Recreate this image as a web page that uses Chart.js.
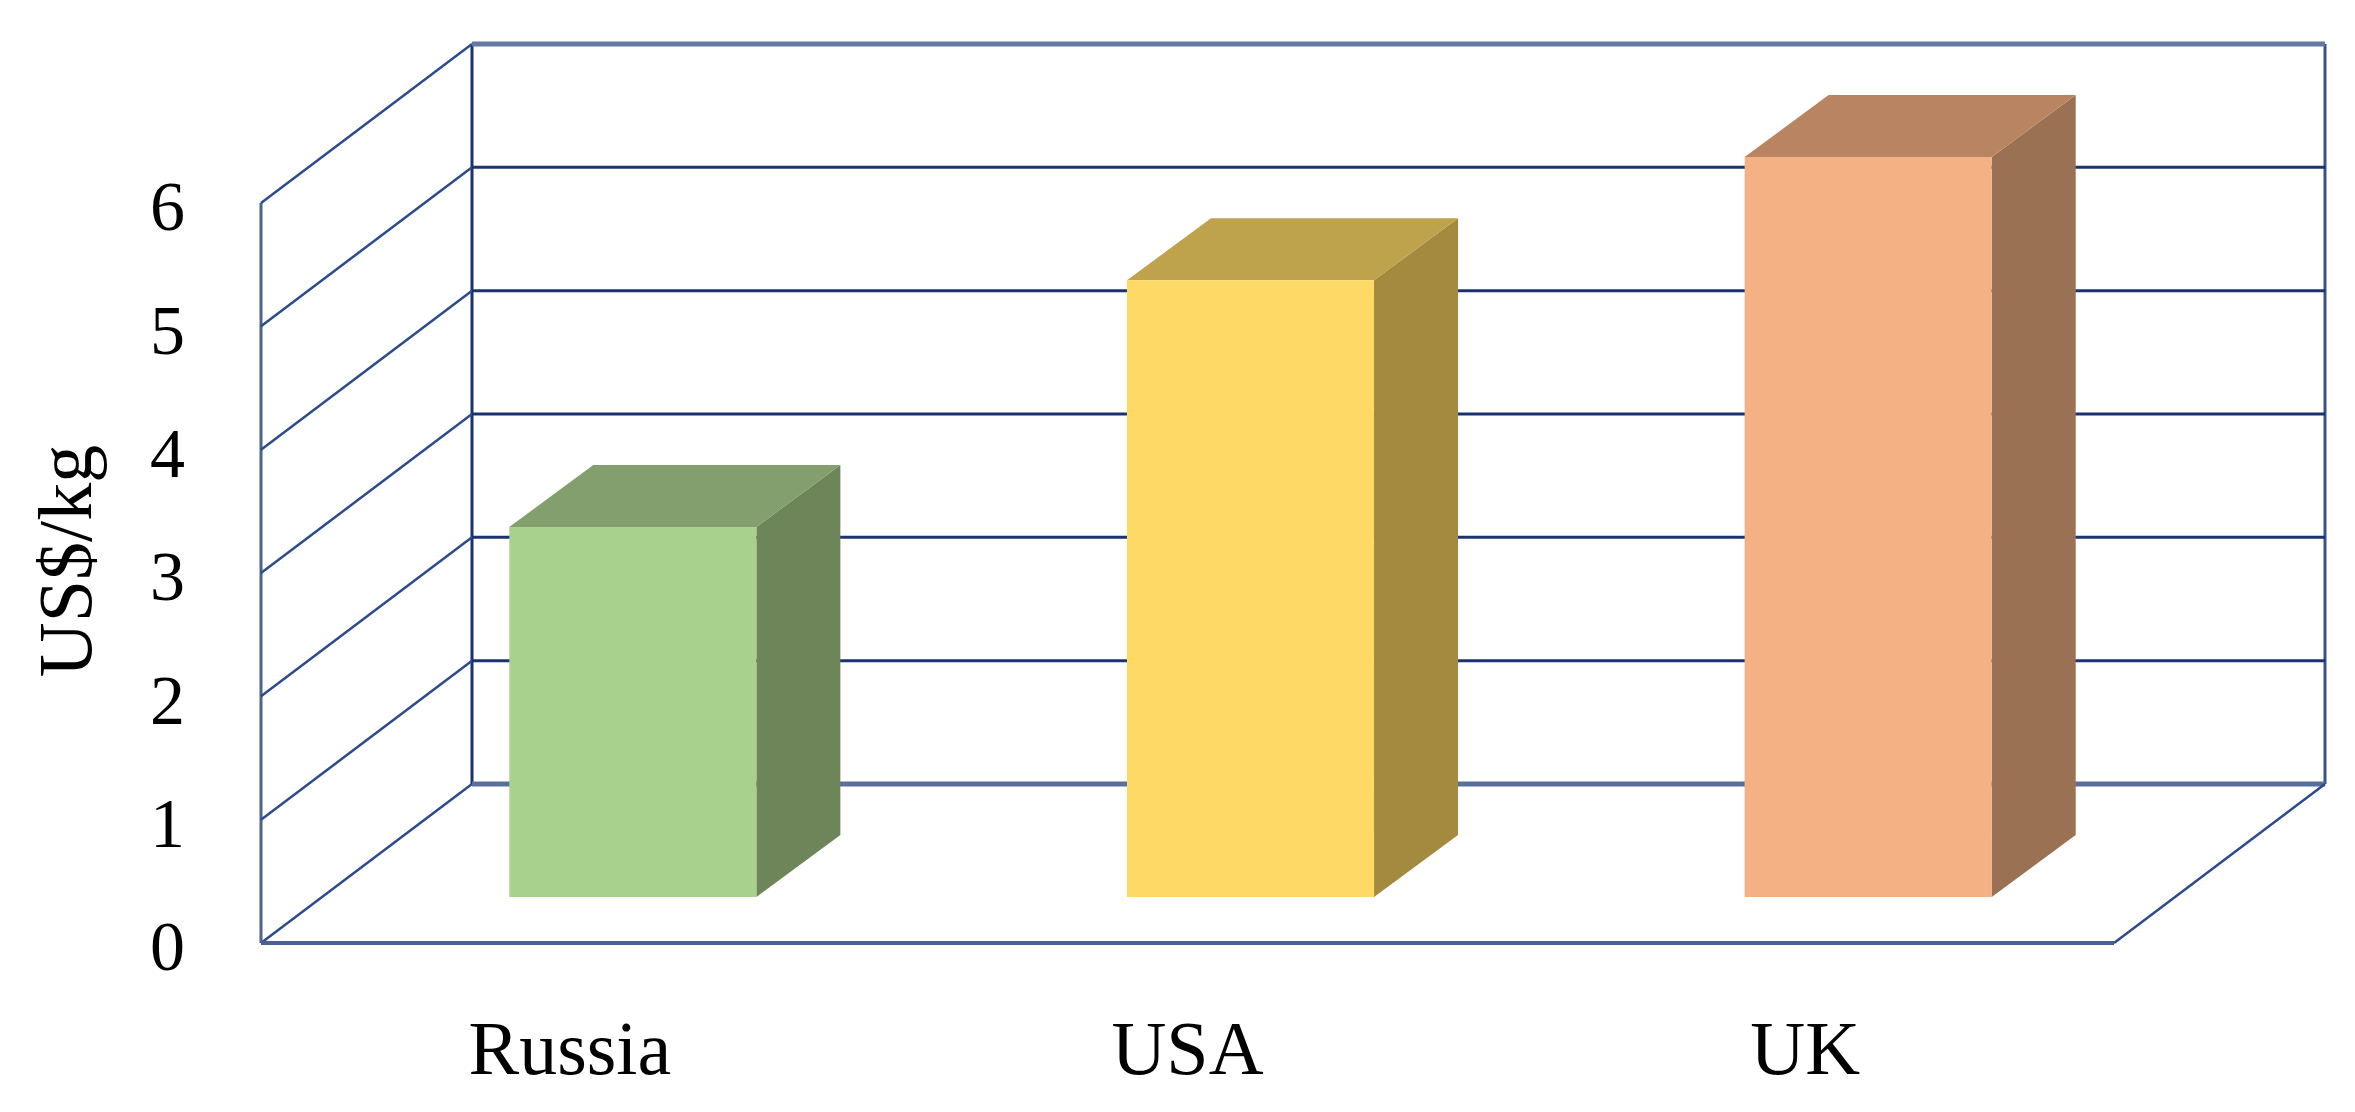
<!DOCTYPE html>
<html>
<head>
<meta charset="utf-8">
<title>US$/kg by country</title>
<script src="https://cdn.jsdelivr.net/npm/chart.js@4"></script>
<style>
    html, body { margin: 0; padding: 0; background: #fff; }
    #chartBox { position: relative; width: 2355px; height: 1112px; }
</style>
</head>
<body>
<div id="chartBox"><canvas id="priceChartCanvas"></canvas></div>
<script>
const categories = ['Russia', 'USA', 'UK'];
const priceValues = [3.0, 5.0, 6.0];
const yTickValues = [0, 1, 2, 3, 4, 5, 6];
const yAxisTitle = 'US$/kg';

const frontColors = ['#a9d18e', '#ffd966', '#f4b183'];
const sideColors = ['#6d8558', '#a38a3f', '#9b7153'];
const topColors = ['#839f6e', '#bfa24c', '#b98461'];

const FONT = '"Liberation Serif", serif';
const LINE_COLOR = '#1a3370';
// how far the back wall and the bars sit behind the front plane
const WALL_DX = 211, WALL_DY = 159;
const BAR_DX = 63, BAR_DY = 46;
const BAR_DEPTH_X = 84, BAR_DEPTH_Y = 62;

function line(ctx, x1, y1, x2, y2, color, width) {
    ctx.beginPath();
    ctx.strokeStyle = color;
    ctx.lineWidth = width;
    ctx.moveTo(x1, y1);
    ctx.lineTo(x2, y2);
    ctx.stroke();
}

function poly(ctx, points, color) {
    ctx.beginPath();
    ctx.fillStyle = color;
    points.forEach(function (p, i) {
        if (i === 0) ctx.moveTo(p[0], p[1]);
        else ctx.lineTo(p[0], p[1]);
    });
    ctx.closePath();
    ctx.fill();
}

const box3d = {
    id: 'box3d',
    beforeDatasetsDraw: function (chart) {
        const ctx = chart.ctx;
        const area = chart.chartArea;
        const yScale = chart.scales.y;
        const lastTick = yTickValues[yTickValues.length - 1];
        const left = area.left, right = area.right;
        const backLeft = left + WALL_DX, backRight = right + WALL_DX;

        ctx.save();
        // walls
        line(ctx, left, yScale.getPixelForValue(0), left, yScale.getPixelForValue(lastTick), '#4f628c', 3);
        line(ctx, backLeft, yScale.getPixelForValue(0) - WALL_DY, backLeft, yScale.getPixelForValue(lastTick) - WALL_DY, LINE_COLOR, 3);
        line(ctx, backRight, yScale.getPixelForValue(0) - WALL_DY, backRight, yScale.getPixelForValue(lastTick) - WALL_DY, '#3a5185', 3);

        yTickValues.forEach(function (v) {
            const y = yScale.getPixelForValue(v);
            line(ctx, left, y, backLeft, y - WALL_DY, '#2c4a8c', 2.5);
            let color = LINE_COLOR, width = 3;
            if (v === 0) { color = '#5a709c'; width = 5; }
            if (v === lastTick) { color = '#64799f'; width = 5; }
            line(ctx, backLeft, y - WALL_DY, backRight, y - WALL_DY, color, width);
        });

        // floor
        const y0 = yScale.getPixelForValue(0);
        line(ctx, left, y0, right, y0, '#4a6090', 4);
        line(ctx, right, y0, backRight, y0 - WALL_DY, '#2c4a8c', 2.5);

        // side and top faces of the bars, then the library draws the fronts
        ctx.translate(BAR_DX, -BAR_DY);
        chart.getDatasetMeta(0).data.forEach(function (bar, i) {
            const l = bar.x - bar.width / 2, r = bar.x + bar.width / 2;
            poly(ctx, [[r, bar.y], [r + BAR_DEPTH_X, bar.y - BAR_DEPTH_Y], [r + BAR_DEPTH_X, bar.base - BAR_DEPTH_Y], [r, bar.base]], sideColors[i]);
            poly(ctx, [[l, bar.y], [l + BAR_DEPTH_X, bar.y - BAR_DEPTH_Y], [r + BAR_DEPTH_X, bar.y - BAR_DEPTH_Y], [r, bar.y]], topColors[i]);
        });
    },
    afterDatasetsDraw: function (chart) {
        chart.ctx.restore();
    },
    afterDraw: function (chart) {
        // axis title sits a little above the scale centre, so it is placed here
        const ctx = chart.ctx;
        const yScale = chart.scales.y;
        ctx.save();
        ctx.translate(71, (yScale.top + yScale.bottom) / 2 - 12);
        ctx.rotate(-Math.PI / 2);
        ctx.font = '76px ' + FONT;
        ctx.fillStyle = '#000';
        ctx.textAlign = 'center';
        ctx.textBaseline = 'middle';
        ctx.fillText(yAxisTitle, 0, 0);
        ctx.restore();
    }
};

new Chart(document.getElementById('priceChartCanvas'), {
    type: 'bar',
    data: {
        labels: categories,
        datasets: [{
            data: priceValues,
            backgroundColor: frontColors,
            barPercentage: 0.4,
            categoryPercentage: 1,
            clip: false
        }]
    },
    options: {
        responsive: true,
        maintainAspectRatio: false,
        animation: false,
        layout: { padding: { top: 203, right: 241, bottom: 0, left: 0 } },
        plugins: { legend: { display: false }, tooltip: { enabled: false } },
        scales: {
            x: {
                grid: { display: false },
                border: { display: false },
                ticks: { color: '#000', font: { family: FONT, size: 76 }, padding: 57, maxRotation: 0 },
                afterFit: function (scale) { scale.height = 169; }
            },
            y: {
                min: 0,
                max: 6,
                grid: { display: false },
                border: { display: false },
                afterBuildTicks: function (scale) {
                    scale.ticks = yTickValues.map(function (v) { return { value: v }; });
                },
                ticks: { color: '#000', font: { family: FONT, size: 70 }, padding: 68, labelOffset: 9 },
                afterFit: function (scale) { scale.width = 261; }
            }
        }
    },
    plugins: [box3d]
});
</script>
</body>
</html>
